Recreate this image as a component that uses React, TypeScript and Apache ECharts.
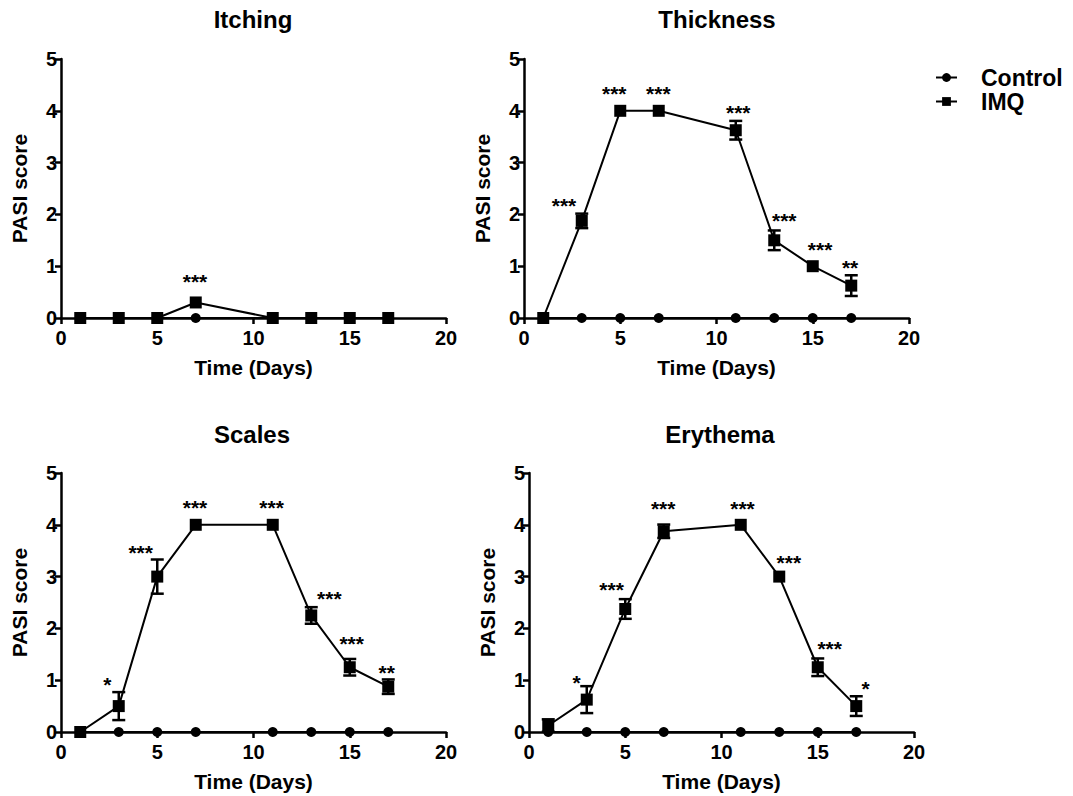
import React, { useEffect, useRef } from "react";
import * as echarts from "echarts";

const days = [1, 3, 5, 7, 11, 13, 15, 17];
const controlScores = [0, 0, 0, 0, 0, 0, 0, 0];

const panelTitles = ["Itching", "Thickness", "Scales", "Erythema"];

const itchingMean = [0, 0, 0, 0.3, 0, 0, 0, 0];
const itchingErr = [0, 0, 0, 0, 0, 0, 0, 0];
const thicknessMean = [0, 1.875, 4, 4, 3.625, 1.5, 1, 0.625];
const thicknessErr = [0, 0.14, 0, 0, 0.18, 0.19, 0, 0.2];
const scalesMean = [0, 0.5, 3.0, 4, 4, 2.25, 1.25, 0.875];
const scalesErr = [0, 0.27, 0.33, 0, 0, 0.16, 0.16, 0.14];
const erythemaMean = [0.125, 0.625, 2.375, 3.875, 4, 3, 1.25, 0.5];
const erythemaErr = [0.12, 0.26, 0.19, 0.13, 0, 0, 0.17, 0.19];

// significance marks: [x, y, text]
const itchingStars: [number, number, string][] = [[6.96, 0.8, "***"]];
const thicknessStars: [number, number, string][] = [
  [2.08, 2.26, "***"], [4.69, 4.43, "***"], [6.98, 4.43, "***"], [11.13, 4.07, "***"],
  [13.52, 1.97, "***"], [15.38, 1.41, "***"], [16.94, 1.08, "**"],
];
const scalesStars: [number, number, string][] = [
  [2.41, 1.01, "*"], [4.14, 3.57, "***"], [6.96, 4.44, "***"], [10.94, 4.44, "***"],
  [13.94, 2.67, "***"], [15.1, 1.8, "***"], [16.92, 1.25, "**"],
];
const erythemaStars: [number, number, string][] = [
  [2.47, 1.05, "*"], [4.29, 2.85, "***"], [6.97, 4.41, "***"], [11.09, 4.41, "***"],
  [13.5, 3.37, "***"], [15.62, 1.7, "***"], [17.49, 0.93, "*"],
];

const xTicks = { min: 0, max: 20, interval: 5 };
const yTicks = { min: 0, max: 5, interval: 1 };

const FONT = "'Liberation Sans', Arial, Helvetica, sans-serif";

export default function App() {
  const ref = useRef<HTMLDivElement>(null);
  useEffect(() => {
    if (!ref.current) return;
    const chart = echarts.init(ref.current, null, { renderer: "svg" });

    const means = [itchingMean, thicknessMean, scalesMean, erythemaMean];
    const errs = [itchingErr, thicknessErr, scalesErr, erythemaErr];
    const stars = [itchingStars, thicknessStars, scalesStars, erythemaStars];

    const grids = [
      { left: 61, top: 59, width: 385, height: 259 },
      { left: 524, top: 59, width: 385, height: 259 },
      { left: 61, top: 473, width: 385, height: 259 },
      { left: 529, top: 473, width: 385, height: 259 },
    ];
    const titlePos = [
      [253, 19],
      [717, 19],
      [252, 434],
      [720, 434],
    ];

    const axisLine = { lineStyle: { color: "#000", width: 2.5 } };
    const axisTick = { inside: false, length: 6, lineStyle: { color: "#000", width: 2.5 } };
    const axisLabelStyle = { color: "#000", fontSize: 20, fontWeight: "bold" as const, fontFamily: FONT };
    const nameStyle = { color: "#000", fontSize: 21, fontWeight: "bold" as const, fontFamily: FONT };

    const xAxis = grids.map((_, i) => ({
      type: "value",
      gridIndex: i,
      ...xTicks,
      name: "Time (Days)",
      nameLocation: "middle",
      nameGap: 39,
      nameTextStyle: nameStyle,
      axisLine: { ...axisLine, onZero: false },
      axisTick,
      axisLabel: { ...axisLabelStyle, margin: 10 },
      splitLine: { show: false },
    }));
    const yAxis = grids.map((_, i) => ({
      type: "value",
      gridIndex: i,
      ...yTicks,
      name: "PASI score",
      nameLocation: "middle",
      nameGap: 31,
      nameTextStyle: nameStyle,
      axisLine: { ...axisLine, onZero: false },
      axisTick,
      axisLabel: { ...axisLabelStyle, margin: 4 },
      splitLine: { show: false },
    }));

    const series: any[] = [];
    grids.forEach((_, i) => {
      series.push({
        name: "Control",
        type: "line",
        xAxisIndex: i,
        yAxisIndex: i,
        data: days.map((d, k) => [d, controlScores[k]]),
        symbol: "circle",
        symbolSize: 10,
        lineStyle: { color: "#000", width: 2 },
        itemStyle: { color: "#000" },
        z: 2,
      });
      series.push({
        name: "errbar" + i,
        type: "custom",
        xAxisIndex: i,
        yAxisIndex: i,
        data: days.map((d, k) => [d, means[i][k], errs[i][k]]),
        renderItem: (params: any, api: any) => {
          const x = api.value(0);
          const m = api.value(1);
          const e = api.value(2);
          if (!e) return null;
          const top = api.coord([x, m + e]);
          const bot = api.coord([x, m - e]);
          const hw = 6.5;
          const st = { stroke: "#000", lineWidth: 2.5 };
          return {
            type: "group",
            children: [
              { type: "line", shape: { x1: top[0], y1: top[1], x2: bot[0], y2: bot[1] }, style: st },
              { type: "line", shape: { x1: top[0] - hw, y1: top[1], x2: top[0] + hw, y2: top[1] }, style: st },
              { type: "line", shape: { x1: bot[0] - hw, y1: bot[1], x2: bot[0] + hw, y2: bot[1] }, style: st },
            ],
          };
        },
        z: 3,
        silent: true,
      });
      series.push({
        name: "IMQ",
        type: "line",
        xAxisIndex: i,
        yAxisIndex: i,
        data: days.map((d, k) => [d, means[i][k]]),
        symbol: "rect",
        symbolSize: 12,
        lineStyle: { color: "#000", width: 2 },
        itemStyle: { color: "#000" },
        z: 4,
      });
      series.push({
        name: "stars" + i,
        type: "custom",
        xAxisIndex: i,
        yAxisIndex: i,
        data: stars[i].map((s) => [s[0], s[1], s[2]]),
        renderItem: (params: any, api: any) => {
          const p = api.coord([api.value(0), api.value(1)]);
          const t = stars[i][params.dataIndex][2];
          return {
            type: "text",
            x: p[0],
            y: p[1] + 5,
            style: {
              text: t,
              fill: "#000",
              font: `bold 21px ${FONT}`,
              align: "center",
              verticalAlign: "middle",
            },
          };
        },
        z: 5,
        silent: true,
      });
    });

    chart.setOption({
      animation: false,
      backgroundColor: "#fff",
      grid: grids,
      xAxis,
      yAxis,
      legend: {
        data: ["Control", "IMQ"],
        orient: "vertical",
        left: 935,
        top: 66,
        padding: 0,
        itemWidth: 21,
        itemHeight: 11,
        itemGap: 1,
        textStyle: {
          color: "#000",
          fontSize: 23,
          fontWeight: "bold",
          fontFamily: FONT,
          lineHeight: 23,
          padding: [0, 0, 0, 19],
        },
      },
      graphic: panelTitles.map((t, i) => ({
        type: "text",
        x: titlePos[i][0],
        y: titlePos[i][1],
        style: {
          text: t,
          fill: "#000",
          font: `bold 24px ${FONT}`,
          align: "center",
          verticalAlign: "middle",
        },
      })),
      series,
    });
    return () => chart.dispose();
  }, []);
  return (
    <div
      ref={ref}
      style={{ position: "absolute", left: 0, top: 0, width: 1073, height: 796, background: "#fff" }}
    />
  );
}
